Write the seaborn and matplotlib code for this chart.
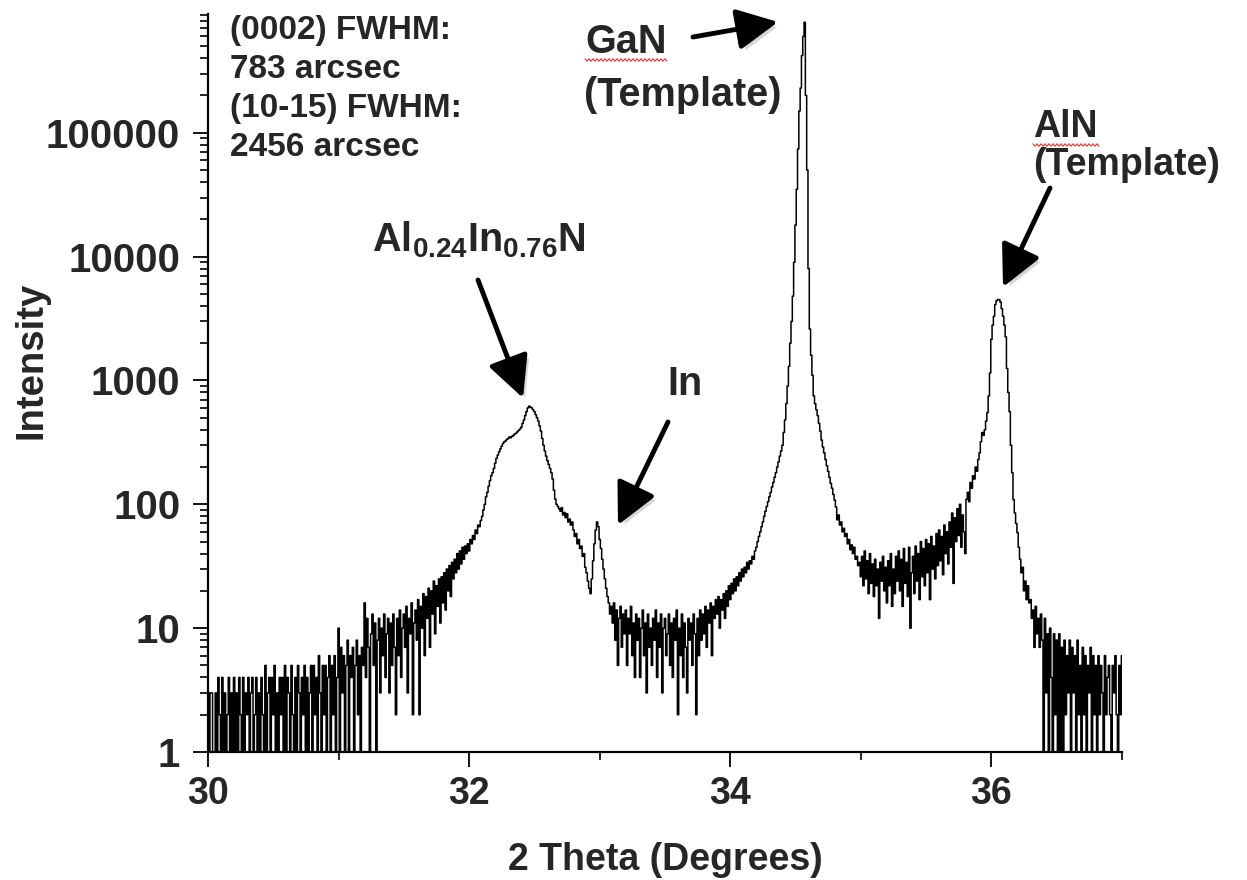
import numpy as np
import pandas as pd
import matplotlib
matplotlib.use("Agg")
import matplotlib.pyplot as plt
import matplotlib.ticker as mticker
import matplotlib.patheffects as pe
from matplotlib.lines import Line2D
import seaborn as sns

# ---------------- data ----------------
scan_start = 30.0      # first 2-theta of the scan (deg)
scan_step = 0.01       # scan step (deg)

counts_30_31 = [3, 1, 3, 3, 1, 1, 3, 1, 4, 2,
                1, 4, 1, 3, 1, 2, 4, 1, 3, 1,
                4, 1, 3, 1, 4, 2, 1, 4, 1, 3,
                2, 4, 1, 3, 4, 1, 2, 4, 1, 3,
                1, 4, 2, 1, 5, 1, 3, 4, 1, 4,
                2, 5, 1, 3, 1, 4, 2, 4, 1, 5,
                1, 4, 3, 1, 5, 2, 1, 4, 1, 5,
                3, 1, 4, 2, 5, 1, 4, 1, 3, 5,
                1, 5, 2, 4, 1, 6, 3, 1, 5, 2,
                5, 1, 4, 6, 1, 5, 2, 6, 1, 4]
counts_31_32 = [10, 1, 7, 3, 6, 1, 5, 8, 1, 6,
                4, 7, 1, 5, 8, 2, 6, 1, 7, 5,
                16, 4, 12, 7, 1, 9, 13, 5, 11, 1,
                8, 12, 3, 10, 6, 13, 4, 9, 12, 3,
                11, 5, 13, 7, 2, 12, 6, 14, 4, 10,
                13, 7, 15, 3, 12, 9, 16, 2, 11, 14,
                8, 17, 2, 15, 10, 19, 6, 18, 12, 21,
                7, 20, 13, 24, 9, 22, 15, 25, 11, 26,
                16, 28, 14, 30, 20, 32, 18, 34, 25, 36,
                28, 40, 30, 42, 33, 45, 36, 46, 40, 48]
counts_32_33 = [42, 52, 48, 56, 52, 62, 58, 68, 66, 74,
                80, 90, 100, 115, 125, 140, 155, 170, 180, 195,
                215, 235, 250, 265, 280, 295, 310, 320, 325, 335,
                340, 350, 345, 355, 360, 370, 375, 385, 395, 405,
                420, 450, 480, 520, 560, 600, 620, 610, 600, 580,
                560, 530, 500, 470, 430, 390, 340, 300, 270, 245,
                225, 210, 195, 180, 160, 130, 110, 100, 96, 92,
                88, 94, 82, 86, 78, 84, 72, 76, 68, 72,
                62, 55, 58, 48, 52, 44, 46, 38, 40, 31,
                28, 24, 21, 19, 25, 35, 48, 62, 72, 66]
counts_33_34 = [52, 44, 36, 30, 25, 21, 18, 16, 13, 15,
                11, 16, 8, 14, 5, 12, 15, 7, 13, 9,
                14, 5, 12, 9, 15, 6, 11, 4, 13, 8,
                12, 4, 10, 14, 6, 11, 3, 13, 7, 10,
                5, 12, 8, 14, 4, 11, 7, 13, 3, 10,
                12, 6, 9, 13, 5, 11, 4, 12, 8, 14,
                2, 10, 6, 13, 4, 11, 7, 3, 12, 8,
                11, 5, 13, 9, 2, 12, 6, 14, 8, 13,
                9, 15, 7, 14, 11, 16, 6, 15, 12, 17,
                13, 18, 10, 17, 14, 19, 12, 20, 15, 22]
counts_34_35 = [17, 23, 19, 25, 20, 26, 22, 28, 24, 30,
                26, 31, 28, 34, 30, 35, 33, 38, 36, 42,
                45, 50, 55, 60, 66, 72, 80, 88, 96, 105,
                115, 125, 138, 150, 165, 180, 200, 220, 245, 270,
                300, 380, 480, 650, 900, 1300, 2000, 3000, 4800, 9000,
                18000, 35000, 74000, 150000, 230000, 420000, 600000, 780000, 200000, 50000,
                8000, 2600, 1600, 1100, 750, 650, 580, 520, 450, 390,
                330, 290, 260, 230, 205, 185, 165, 148, 135, 120,
                108, 95, 75, 82, 68, 72, 60, 64, 55, 58,
                48, 52, 43, 47, 40, 45, 36, 38, 32, 34]
counts_35_36 = [26, 38, 22, 42, 25, 35, 19, 40, 23, 33,
                18, 36, 22, 30, 12, 34, 24, 38, 20, 31,
                16, 35, 22, 40, 15, 30, 19, 38, 24, 42,
                20, 36, 15, 44, 23, 34, 18, 45, 10, 28,
                38, 19, 46, 24, 40, 17, 50, 26, 44, 22,
                52, 28, 48, 17, 55, 30, 46, 25, 58, 32,
                62, 35, 55, 27, 68, 40, 60, 33, 72, 45,
                85, 23, 78, 50, 92, 56, 100, 45, 82, 60,
                40, 110, 125, 105, 150, 135, 170, 160, 200, 185,
                230, 260, 320, 380, 360, 400, 470, 550, 750, 1150]
counts_36_37 = [2150, 2800, 3300, 4100, 4400, 4500, 4500, 4300, 3800, 3300,
                2800, 2250, 1250, 800, 560, 300, 180, 109, 85, 70,
                59, 45, 36, 28, 31, 20, 24, 17, 22, 16,
                17, 12, 14, 7, 15, 9, 12, 7, 13, 8,
                1, 12, 3, 9, 1, 10, 4, 1, 9, 2,
                8, 1, 9, 1, 7, 1, 8, 2, 6, 3,
                8, 1, 7, 3, 6, 1, 8, 2, 5, 1,
                7, 2, 6, 1, 5, 3, 7, 1, 6, 2,
                5, 1, 6, 2, 5, 3, 1, 6, 2, 4,
                5, 2, 1, 5, 3, 6, 2, 1, 5, 2,
                6]

x_major_ticks = [30, 32, 34, 36]
x_minor_ticks = [31, 33, 35, 37]
y_ticks = [1, 10, 100, 1000, 10000, 100000]
y_tick_labels = ["1", "10", "100", "1000", "10000", "100000"]

# ---------------- build frame ----------------
intensity = np.array(counts_30_31 + counts_31_32 + counts_32_33 + counts_33_34 +
                     counts_34_35 + counts_35_36 + counts_36_37, dtype=float)
two_theta = scan_start + scan_step * np.arange(len(intensity))
df = pd.DataFrame({"two_theta": two_theta, "intensity": intensity})

# ---------------- style ----------------
sns.set_style("ticks")
plt.rcParams["font.family"] = ["Liberation Sans", "DejaVu Sans"]
plt.rcParams["font.weight"] = "bold"
plt.rcParams["axes.labelweight"] = "bold"
plt.rcParams["mathtext.fontset"] = "custom"
plt.rcParams["mathtext.rm"] = "Liberation Sans:bold"
plt.rcParams["mathtext.bf"] = "Liberation Sans:bold"
plt.rcParams["mathtext.it"] = "Liberation Sans:bold"
plt.rcParams["mathtext.default"] = "bf"

W, H = 1247, 880
fig = plt.figure(figsize=(W / 100, H / 100), dpi=100)
ax = fig.add_axes([208 / W, 1 - 752 / H, (1122 - 208) / W, (752 - 14) / H])

sns.lineplot(data=df, x="two_theta", y="intensity", ax=ax, color="black",
             lw=1.1, drawstyle="steps-mid", estimator=None)

ax.set_yscale("log")
ax.set_xlim(30, 37)
ax.set_ylim(1, 9.1e5)

ax.xaxis.set_major_locator(mticker.FixedLocator(x_major_ticks))
ax.xaxis.set_minor_locator(mticker.FixedLocator(x_minor_ticks))
ax.xaxis.set_major_formatter(mticker.FormatStrFormatter("%d"))
ax.yaxis.set_major_locator(mticker.FixedLocator(y_ticks))
ax.yaxis.set_major_formatter(mticker.FixedFormatter(y_tick_labels))
ax.yaxis.set_minor_locator(mticker.LogLocator(base=10, subs=np.arange(2, 10)))
ax.yaxis.set_minor_formatter(mticker.NullFormatter())

ax.tick_params(which="major", direction="out", length=11, width=1.3, color="black")
ax.tick_params(axis="x", which="major", pad=6, labelsize=27)
ax.tick_params(axis="y", which="major", pad=9, labelsize=29)
ax.tick_params(which="minor", direction="out", length=6, width=1.2, color="black")

for s in ["top", "right"]:
    ax.spines[s].set_visible(False)
for s in ["left", "bottom"]:
    ax.spines[s].set_linewidth(1.6)
    ax.spines[s].set_color("black")

ax.set_xlabel("2 Theta (Degrees)", fontsize=27, fontweight="bold", labelpad=22)
ax.set_ylabel("Intensity", fontsize=27.5, fontweight="bold")
ax.yaxis.set_label_coords(-0.173, 0.53)

# ---------------- annotations ----------------
def fp(px, py):
    return (px / W, 1 - py / H)

fig.text(*fp(230, 15), "(0002) FWHM:\n783 arcsec\n(10-15) FWHM:\n2456 arcsec",
         fontsize=24, fontweight="bold", ha="left", va="top", linespacing=1.33)

labels = [
    ("GaN", (585, 42), 28.5),
    ("(Template)", (584, 95), 28.5),
    ("AlN", (1033, 127), 27),
    ("(Template)", (1033, 165), 27),
    ("Al$_{0.24}$In$_{0.76}$N", (372, 240), 28.5),
    ("In", (667, 384), 28.5),
]
for txt, (px, py), fs in labels:
    fig.text(*fp(px, py), txt, fontsize=fs, fontweight="bold",
             ha="left", va="center")

# red spell-check squiggles under GaN / AlN (as in the reference screenshot)
for x0, x1, yy in [(585, 668, 60), (1033, 1100, 145)]:
    xs = np.arange(x0, x1, 2.0)
    ys = yy + np.where(np.arange(len(xs)) % 2 == 0, -1.2, 1.2)
    fig.add_artist(Line2D(xs / W, 1 - ys / H, transform=fig.transFigure,
                          color="#e03030", lw=0.8))

arrows = [
    ((693, 37), (778, 22)),
    ((1050, 188), (1003, 287)),
    ((478, 280), (523, 398)),
    ((668, 422), (618, 525)),
]
for tail, head in arrows:
    ann = ax.annotate("", xy=fp(*head), xytext=fp(*tail),
                      xycoords="figure fraction", textcoords="figure fraction",
                      arrowprops=dict(arrowstyle="-|>,head_length=0.9,head_width=0.45",
                                      lw=3.5, color="black", mutation_scale=28,
                                      shrinkA=0, shrinkB=0))
    ann.arrow_patch.set_path_effects([
        pe.SimplePatchShadow(offset=(3, -3), shadow_rgbFace="0.55", alpha=0.35),
        pe.Normal()])

fig.savefig("out.png", dpi=100)
